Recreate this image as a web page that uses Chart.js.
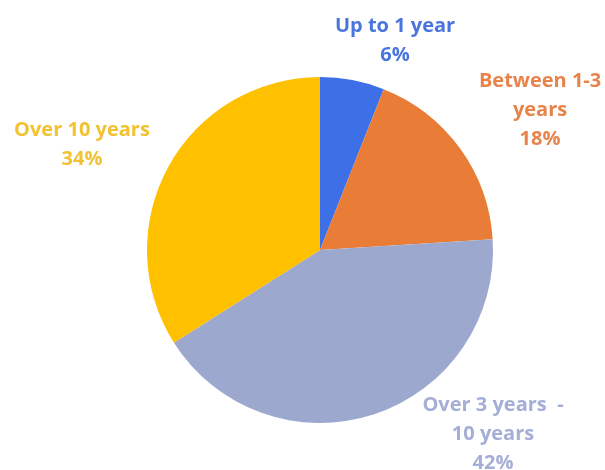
<!DOCTYPE html>
<html>
<head>
    <title>Years of service</title>
    <script src="https://cdn.jsdelivr.net/npm/chart.js@4.4.0/dist/chart.umd.min.js"></script>
    <style>
        body { margin: 0; background: #fff; }
        #wrap { width: 605px; height: 470px; }
    </style>
</head>
<body>
<div id="wrap"><canvas id="canvas" width="605" height="470"></canvas></div>
<script>
    // values
    var categories = ['Up to 1 year', 'Between 1-3 years', 'Over 3 years - 10 years', 'Over 10 years'];
    var shares = [6, 18, 42, 34];
    var labelLines = [
        ['Up to 1 year'],
        ['Between 1-3', 'years'],
        ['Over 3 years  -', '10 years'],
        ['Over 10 years']
    ];
    var sliceColors = ['#3D6FE6', '#E97C37', '#9DA8CE', '#FFC000'];
    var textColors = ['#4A75DE', '#E8834A', '#A5AED6', '#F1C232'];

    // label offsets from the pie centre, as multiples of the radius
    var labelOffsets = [[0.434, -1.208], [1.272, -0.81], [1.0, 1.064], [-1.376, -0.607]];

    var outsideLabels = {
        id: 'outsideLabels',
        afterDatasetsDraw: function(chart) {
            var ctx = chart.ctx;
            var meta = chart.getDatasetMeta(0);
            ctx.save();
            ctx.font = 'bold 20px "Open Sans"';
            ctx.textAlign = 'center';
            ctx.textBaseline = 'middle';
            meta.data.forEach(function(arc, i) {
                var lines = labelLines[i].concat([shares[i] + '%']);
                var cx = arc.x + labelOffsets[i][0] * arc.outerRadius;
                var cy = arc.y + labelOffsets[i][1] * arc.outerRadius;
                var lh = 29;
                var top = cy - (lines.length - 1) * lh / 2;
                ctx.fillStyle = textColors[i];
                lines.forEach(function(t, j) {
                    ctx.fillText(t, cx, top + j * lh);
                });
            });
            ctx.restore();
        }
    };

    var context = document.getElementById('canvas').getContext('2d');
    var myPie = new Chart(context, {
        type: 'pie',
        data: {
            labels: categories,
            datasets: [{
                data: shares,
                backgroundColor: sliceColors,
                borderWidth: 0
            }]
        },
        options: {
            responsive: false,
            animation: false,
            layout: { padding: { left: 147, right: 112, top: 77, bottom: 47 } },
            plugins: {
                legend: { display: false },
                tooltip: { enabled: false }
            }
        },
        plugins: [outsideLabels]
    });
</script>
</body>
</html>
